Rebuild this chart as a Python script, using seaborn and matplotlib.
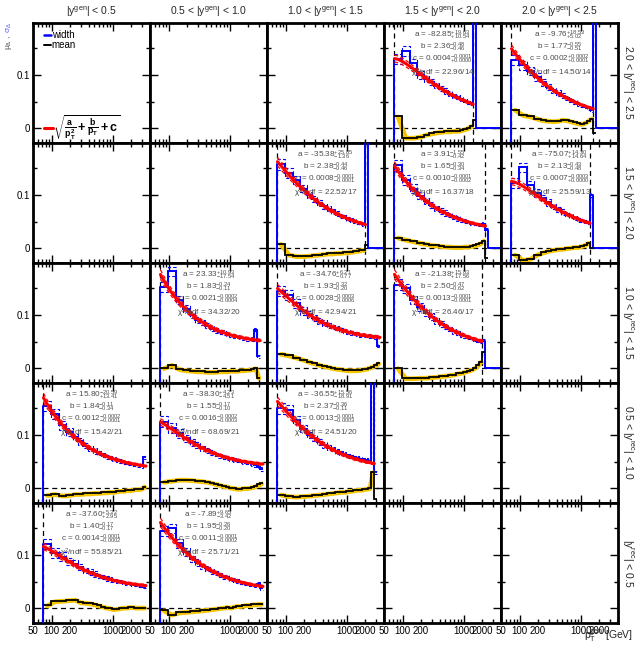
import numpy as np
import matplotlib
matplotlib.use("Agg")
import matplotlib.pyplot as plt
import seaborn as sns
from matplotlib.ticker import FixedLocator, FuncFormatter, NullFormatter

sns.set_theme(style="ticks")
plt.rcParams["font.family"] = ["Liberation Sans", "DejaVu Sans"]
plt.rcParams["mathtext.fontset"] = "custom"
plt.rcParams["mathtext.rm"] = "Liberation Sans"
plt.rcParams["mathtext.it"] = "Liberation Sans:italic"
plt.rcParams["mathtext.bf"] = "Liberation Sans:bold"
plt.rcParams["mathtext.sf"] = "Liberation Sans"
plt.rcParams["mathtext.default"] = "regular"

# ---------------------------------------------------------------- binning
pt_edges = [74, 97, 133, 174, 220, 272, 330, 395, 468, 548, 638, 737, 846,
            967, 1101, 1248, 1410, 1588, 1784, 2000, 2238, 2500, 2787, 3103, 3450]
width_err = [0.010, 0.009, 0.008, 0.007, 0.006, 0.006, 0.005, 0.005, 0.005,
             0.004, 0.004, 0.004, 0.004, 0.003, 0.003, 0.003, 0.003, 0.003,
             0.003, 0.003, 0.003, 0.003, 0.003, 0.003]

gen_labels = ["$|y^{gen}|$ < 0.5", "0.5 < $|y^{gen}|$ < 1.0", "1.0 < $|y^{gen}|$ < 1.5",
              "1.5 < $|y^{gen}|$ < 2.0", "2.0 < $|y^{gen}|$ < 2.5"]
rec_labels = ["2.0 < $|y^{rec}|$ < 2.5", "1.5 < $|y^{rec}|$ < 2.0", "1.0 < $|y^{rec}|$ < 1.5",
              "0.5 < $|y^{rec}|$ < 1.0", "$|y^{rec}|$ < 0.5"]
x_tick_values = [50, 100, 200, 1000, 2000]

# ---------------------------------------------------------------- resolution (width) and bias (mean) per bin
width_R0C3 = [0.130, 0.145, 0.122, 0.100, 0.092, 0.087, 0.080, 0.074, 0.070, 0.065, 0.061, 0.058,
              0.055, 0.052, 0.049, 0.046, 0.250]
mean_R0C3 = [0.022, -0.018, -0.018, -0.016, -0.012, -0.010, -0.008, -0.007, -0.006, -0.006, -0.005,
             -0.005, -0.004, -0.002, 0.000, 0.004, 0.015]
width_R0C4 = [0.128, 0.118, 0.108, 0.096, 0.086, 0.078, 0.071, 0.066, 0.061, 0.057, 0.053, 0.049,
              0.046, 0.043, 0.040, 0.038, 0.034, 0.250]
mean_R0C4 = [0.035, 0.025, 0.022, 0.018, 0.015, 0.014, 0.013, 0.014, 0.016, 0.015, 0.013, 0.011,
             0.009, 0.008, 0.010, 0.014, 0.018, -0.010]
width_R1C2 = [0.158, 0.142, 0.128, 0.112, 0.100, 0.092, 0.085, 0.079, 0.074, 0.069, 0.065, 0.061,
              0.058, 0.055, 0.053, 0.051, 0.049, 0.047, 0.045, 0.250]
mean_R1C2 = [0.008, -0.012, -0.015, -0.015, -0.014, -0.013, -0.012, -0.011, -0.010, -0.010, -0.009,
             -0.009, -0.008, -0.008, -0.007, -0.006, -0.005, -0.004, -0.003, 0.005]
width_R1C3 = [0.156, 0.128, 0.112, 0.099, 0.089, 0.081, 0.075, 0.070, 0.066, 0.062, 0.059, 0.056,
              0.053, 0.051, 0.049, 0.047, 0.046, 0.045, 0.044, 0.046, 0.035]
mean_R1C3 = [0.020, 0.016, 0.013, 0.010, 0.008, 0.006, 0.005, 0.004, 0.003, 0.003, 0.002, 0.002,
             0.002, 0.003, 0.003, 0.004, 0.005, 0.007, 0.009, 0.014, -0.018]
width_R1C4 = [0.123, 0.152, 0.118, 0.104, 0.094, 0.086, 0.078, 0.073, 0.068, 0.064, 0.060, 0.057,
              0.054, 0.052, 0.050, 0.048, 0.100]
mean_R1C4 = [-0.012, -0.022, -0.020, -0.012, -0.008, -0.005, -0.003, -0.002, -0.001, 0.000, 0.001,
             0.002, 0.002, 0.004, 0.006, 0.010, 0.000]
width_R2C1 = [0.153, 0.182, 0.128, 0.112, 0.100, 0.091, 0.086, 0.080, 0.074, 0.071, 0.068, 0.067,
              0.064, 0.062, 0.060, 0.059, 0.057, 0.056, 0.055, 0.054, 0.055, 0.072, 0.022]
mean_R2C1 = [0.000, 0.006, -0.002, -0.004, -0.005, -0.006, -0.006, -0.007, -0.007, -0.007, -0.006,
             -0.006, -0.006, -0.005, -0.005, -0.005, -0.004, -0.004, -0.003, -0.003, -0.002, 0.000,
             -0.018]
width_R2C2 = [0.145, 0.138, 0.122, 0.108, 0.101, 0.094, 0.089, 0.085, 0.080, 0.077, 0.075, 0.072,
              0.070, 0.068, 0.066, 0.065, 0.064, 0.062, 0.061, 0.061, 0.060, 0.059, 0.058, 0.042]
mean_R2C2 = [0.027, 0.024, 0.020, 0.016, 0.012, 0.009, 0.006, 0.004, 0.002, 0.000, -0.001, -0.002,
             -0.003, -0.004, -0.004, -0.004, -0.004, -0.003, -0.002, -0.001, 0.001, 0.003, 0.006,
             0.009]
width_R2C3 = [0.157, 0.150, 0.128, 0.115, 0.104, 0.097, 0.089, 0.083, 0.078, 0.073, 0.069, 0.066,
              0.063, 0.060, 0.058, 0.056, 0.054, 0.052, 0.050, 0.052]
mean_R2C3 = [0.000, -0.019, -0.019, -0.018, -0.018, -0.017, -0.016, -0.015, -0.014, -0.013, -0.012,
             -0.010, -0.009, -0.007, -0.005, -0.003, 0.000, 0.005, 0.012, 0.030]
width_R3C0 = [0.155, 0.140, 0.118, 0.106, 0.096, 0.088, 0.080, 0.074, 0.070, 0.066, 0.063, 0.059,
              0.057, 0.055, 0.053, 0.051, 0.049, 0.048, 0.046, 0.045, 0.044, 0.043, 0.041, 0.058]
mean_R3C0 = [-0.013, -0.011, -0.014, -0.013, -0.011, -0.011, -0.010, -0.010, -0.009, -0.009, -0.008,
             -0.008, -0.007, -0.007, -0.006, -0.005, -0.005, -0.004, -0.004, -0.003, -0.002, -0.002,
             -0.001, 0.003]
width_R3C1 = [0.125, 0.113, 0.103, 0.094, 0.086, 0.081, 0.075, 0.071, 0.067, 0.064, 0.061, 0.059,
              0.057, 0.055, 0.053, 0.052, 0.050, 0.049, 0.048, 0.047, 0.045, 0.043, 0.040, 0.036]
mean_R3C1 = [0.012, 0.014, 0.016, 0.016, 0.015, 0.014, 0.013, 0.012, 0.010, 0.008, 0.006, 0.004,
             0.003, 0.001, 0.000, -0.001, -0.001, 0.000, 0.000, 0.001, 0.002, 0.004, 0.007, 0.009]
width_R3C2 = [0.150, 0.148, 0.128, 0.112, 0.100, 0.094, 0.087, 0.081, 0.076, 0.073, 0.069, 0.066,
              0.064, 0.062, 0.060, 0.058, 0.057, 0.055, 0.054, 0.053, 0.052, 0.250, 0.030]
mean_R3C2 = [-0.012, -0.015, -0.016, -0.015, -0.014, -0.013, -0.012, -0.011, -0.010, -0.009, -0.008,
             -0.007, -0.007, -0.006, -0.005, -0.004, -0.003, -0.003, -0.002, -0.001, 0.000, 0.030,
             -0.020]
width_R4C0 = [0.121, 0.104, 0.097, 0.088, 0.084, 0.077, 0.071, 0.068, 0.064, 0.061, 0.059, 0.056,
              0.054, 0.052, 0.051, 0.050, 0.048, 0.047, 0.046, 0.045, 0.044, 0.043, 0.042, 0.040]
mean_R4C0 = [0.005, 0.013, 0.014, 0.015, 0.016, 0.011, 0.010, 0.009, 0.007, 0.005, 0.003, 0.001,
             0.000, -0.002, -0.001, 0.000, 0.001, 0.001, 0.002, 0.002, 0.001, 0.001, 0.001, 0.001]
width_R4C1 = [0.145, 0.150, 0.122, 0.106, 0.093, 0.086, 0.079, 0.075, 0.069, 0.066, 0.063, 0.059,
              0.058, 0.054, 0.053, 0.051, 0.049, 0.047, 0.046, 0.045, 0.044, 0.043, 0.046, 0.038]
mean_R4C1 = [-0.004, -0.012, -0.008, -0.007, -0.006, -0.005, -0.004, -0.003, -0.002, -0.001, 0.000,
             0.001, 0.002, 0.001, 0.003, 0.004, 0.004, 0.005, 0.006, 0.006, 0.007, 0.007, 0.008,
             0.008]

# ---------------------------------------------------------------- fit results: (value, upper, lower)
fit_a = [(-82.85, "+19.63", "+10.54"), (-9.76, "+18.53", "+5.02"), (-35.38, "+25.85", "-1.36"),
         (3.91, "-1.55", "-0.42"), (-75.07, "+14.30", "+14.64"), (23.33, "+10.93", "-17.54"),
         (-34.76, "+6.21", "-0.77"), (-21.38, "+15.83", "+17.56"), (15.80, "-20.59", "+13.41"),
         (-38.30, "+4.23", "-4.51"), (-36.55, "+15.56", "-18.91"), (-37.60, "+5.32", "+2.95"),
         (-7.89, "+9.65", "-3.42")]
fit_b = [(2.36, "-0.48", "-0.46"), (1.77, "-0.55", "-0.51"), (2.38, "-0.44", "-0.46"),
         (1.65, "-0.30", "-0.34"), (2.13, "-0.43", "-0.48"), (1.83, "-0.24", "-0.11"),
         (1.93, "-0.32", "-0.20"), (2.50, "-0.47", "-0.62"), (1.84, "-0.11", "-0.34"),
         (1.55, "-0.17", "-0.10"), (2.37, "-0.36", "-0.11"), (1.40, "-0.17", "-0.17"),
         (1.95, "-0.26", "-0.20")]
fit_c = [(0.0004, "-0.0001", "+0.0000"), (0.0002, "+0.0002", "+0.0001"), (0.0008, "-0.0001", "-0.0001"),
         (0.0010, "-0.0001", "-0.0002"), (0.0007, "-0.0003", "+0.0000"), (0.0021, "-0.0002", "-0.0004"),
         (0.0028, "-0.0003", "-0.0006"), (0.0013, "-0.0001", "-0.0001"), (0.0012, "-0.0002", "-0.0001"),
         (0.0016, "-0.0002", "-0.0003"), (0.0013, "-0.0001", "-0.0003"), (0.0014, "-0.0001", "-0.0002"),
         (0.0011, "-0.0001", "-0.0002")]
chi2_ndf = ["22.96/14", "14.50/14", "22.52/17", "16.37/18", "25.59/13", "34.32/20", "42.94/21",
            "26.46/17", "15.42/21", "68.69/21", "24.51/20", "55.85/21", "25.71/21"]
fit_end = [1410, 1588, 2000, 2238, 1410, 3103, 3450, 2000, 3450, 3450, 2787, 3450, 3450]
panel_pos = [(0, 3), (0, 4), (1, 2), (1, 3), (1, 4), (2, 1), (2, 2), (2, 3), (3, 0), (3, 1),
             (3, 2), (4, 0), (4, 1)]
panel_width = [width_R0C3, width_R0C4, width_R1C2, width_R1C3, width_R1C4, width_R2C1, width_R2C2,
               width_R2C3, width_R3C0, width_R3C1, width_R3C2, width_R4C0, width_R4C1]
panel_mean = [mean_R0C3, mean_R0C4, mean_R1C2, mean_R1C3, mean_R1C4, mean_R2C1, mean_R2C2,
              mean_R2C3, mean_R3C0, mean_R3C1, mean_R3C2, mean_R4C0, mean_R4C1]
acceptance_cut = [True, True, True, True, True, False, False, True, False, False, False, False, False]

# ---------------------------------------------------------------- style
BLUE = "#0000ff"
RED = "#ff0000"
YELLOW = "#f5c400"
TEXT_GREY = "#4d4d4d"
XMIN, XMAX = 50, 4000
YMIN, YMAX = -0.028, 0.198
W_PX, H_PX = 636, 646
LEFT_PX, TOP_PX, COL_PX, ROW_PX = 33, 23, 117, 120


def resolution(pt, a, b, c):
    return np.sqrt(a / pt ** 2 + b / pt + c)


fig = plt.figure(figsize=(W_PX / 100, H_PX / 100), dpi=100)
fig.patch.set_facecolor("white")

minor_ticks = [50, 60, 70, 80, 90] + list(range(200, 1000, 100)) + [2000, 3000, 4000]

axes = {}
for r in range(5):
    for c in range(5):
        left = (LEFT_PX + COL_PX * c) / W_PX
        bottom = 1 - (TOP_PX + ROW_PX * (r + 1)) / H_PX
        ax = fig.add_axes([left, bottom, COL_PX / W_PX, ROW_PX / H_PX])
        ax.set_facecolor("white")
        ax.set_xscale("log")
        ax.set_xlim(XMIN, XMAX)
        ax.set_ylim(YMIN, YMAX)
        ax.xaxis.set_major_locator(FixedLocator([100, 1000]))
        ax.xaxis.set_minor_locator(FixedLocator(minor_ticks))
        ax.yaxis.set_major_locator(FixedLocator([0.0, 0.1]))
        ax.yaxis.set_minor_locator(FixedLocator([0.05, 0.15]))
        ax.tick_params(which="both", direction="in", top=True, right=True, width=1.0,
                       labelsize=7.0, colors="black", pad=2)
        ax.tick_params(which="major", length=6)
        ax.tick_params(which="minor", length=3)
        if r == 4:
            ax.xaxis.set_major_formatter(FuncFormatter(lambda v, p: f"{int(round(v))}"))
            ax.xaxis.set_minor_formatter(FuncFormatter(
                lambda v, p: f"{int(round(v))}" if int(round(v)) in x_tick_values else ""))
        else:
            ax.xaxis.set_major_formatter(NullFormatter())
            ax.xaxis.set_minor_formatter(NullFormatter())
        if c == 0:
            ax.yaxis.set_major_formatter(FuncFormatter(lambda v, p: "0" if abs(v) < 1e-9 else f"{v:g}"))
        else:
            ax.yaxis.set_major_formatter(NullFormatter())
        ax.yaxis.set_minor_formatter(NullFormatter())
        for s in ax.spines.values():
            s.set_linewidth(2.0)
            s.set_color("black")
        ax.grid(False)
        axes[(r, c)] = ax

for i, (r, c) in enumerate(panel_pos):
    ax = axes[(r, c)]
    w = np.array(panel_width[i])
    m = np.array(panel_mean[i])
    n = len(w)
    edges = np.array(pt_edges[: n + 1], dtype=float)
    centers = np.sqrt(edges[:-1] * edges[1:])
    err = np.array(width_err[:n])
    a, b, cc = fit_a[i][0], fit_b[i][0], fit_c[i][0]
    x_end = fit_end[i]

    # reference lines
    ax.plot([edges[0], XMAX], [0, 0], color="black", lw=0.9, ls=(0, (4, 3)), zorder=1)
    ax.axvline(edges[0], color="black", lw=0.9, ls=(0, (4, 3)), zorder=1)
    if acceptance_cut[i]:
        ax.axvline(x_end, color="black", lw=0.9, ls=(0, (4, 3)), zorder=1)

    # width histogram with its uncertainty
    ax.stairs(w + err, edges, baseline=None, color=BLUE, lw=0.8, ls=(0, (3, 2)), zorder=2)
    ax.stairs(w - err, edges, baseline=None, color=BLUE, lw=0.8, ls=(0, (3, 2)), zorder=2)
    ax.stairs(w, edges, baseline=None, color=BLUE, lw=1.4, zorder=3)
    ax.plot([edges[0], edges[0]], [YMIN, w[0]], color=BLUE, lw=1.4, zorder=3)
    if acceptance_cut[i]:
        ax.plot([edges[-1], edges[-1], XMAX], [w[-1], 0, 0], color=BLUE, lw=1.4, zorder=3)

    # resolution fit and its band
    grid = np.geomspace(edges[0], x_end, 200)
    curve = resolution(grid, a, b, cc)
    sns.lineplot(x=grid, y=curve * 1.05, ax=ax, color=RED, lw=0.9, ls=(0, (3, 2)), zorder=4)
    sns.lineplot(x=grid, y=curve * 0.95, ax=ax, color=RED, lw=0.9, ls=(0, (3, 2)), zorder=4)
    sns.lineplot(x=grid, y=curve, ax=ax, color=RED, lw=2.2, zorder=5)

    # mean (bias) with smooth trend
    inside = centers <= x_end
    sns.lineplot(x=centers[inside], y=m[inside] - 0.001, ax=ax, color=YELLOW, lw=3.4, zorder=5)
    ax.stairs(m, edges, baseline=None, color="black", lw=1.3, zorder=6)

    # fit summary
    lines = [
        f"a = {a:.2f}$^{{{fit_a[i][1]}}}_{{{fit_a[i][2]}}}$",
        f"b = {b:.2f}$^{{{fit_b[i][1]}}}_{{{fit_b[i][2]}}}$",
        f"c = {cc:.4f}$^{{{fit_c[i][1]}}}_{{{fit_c[i][2]}}}$",
        f"$\\chi^{{2}}$/ndf = {chi2_ndf[i]}",
    ]
    for k, (txt, yy) in enumerate(zip(lines, [0.90, 0.797, 0.694, 0.58])):
        ax.text(0.5, yy, txt, transform=ax.transAxes, ha="center", va="center",
                fontsize=5.9, color=TEXT_GREY, zorder=8)

# legend panel
lg = axes[(0, 0)]
lg.plot([0.09, 0.15], [0.90, 0.90], transform=lg.transAxes, color=BLUE, lw=1.8)
lg.text(0.16, 0.90, "width", transform=lg.transAxes, fontsize=7, va="center", color="black")
lg.plot([0.09, 0.15], [0.815, 0.815], transform=lg.transAxes, color="black", lw=1.4)
lg.text(0.16, 0.815, "mean", transform=lg.transAxes, fontsize=7, va="center", color="black")
lg.plot([0.09, 0.17], [0.125, 0.125], transform=lg.transAxes, color=RED, lw=2.2)
lg.text(0.175, 0.125, r"$\sqrt{\frac{a}{p_{T}^{2}}+\frac{b}{p_{T}}+c}$", transform=lg.transAxes,
        fontsize=9, va="center", ha="left", color="black", fontweight="bold")

# column / row headers
for c, lab in enumerate(gen_labels):
    fig.text((LEFT_PX + COL_PX * (c + 0.5)) / W_PX, 1 - 12 / H_PX, lab, ha="center", va="center",
             fontsize=7.5)
for r, lab in enumerate(rec_labels):
    fig.text(628 / W_PX, 1 - (TOP_PX + ROW_PX * (r + 0.5)) / H_PX, lab, ha="center", va="center",
             rotation=-90, fontsize=7.5)

fig.text(9 / W_PX, 1 - 50 / H_PX, r"$\mu_{\Delta}$ ,", rotation=90, ha="center", va="bottom",
         fontsize=6.0, color=TEXT_GREY)
fig.text(9 / W_PX, 1 - 33 / H_PX, r"$\sigma_{\Delta}$", rotation=90, ha="center", va="bottom",
         fontsize=6.0, color="#5a5aff")
fig.text(633 / W_PX, 2 / H_PX, r"$p_{T}^{gen}$ [GeV]", ha="right", va="bottom", fontsize=7.5)

fig.savefig("out.png", dpi=100)
